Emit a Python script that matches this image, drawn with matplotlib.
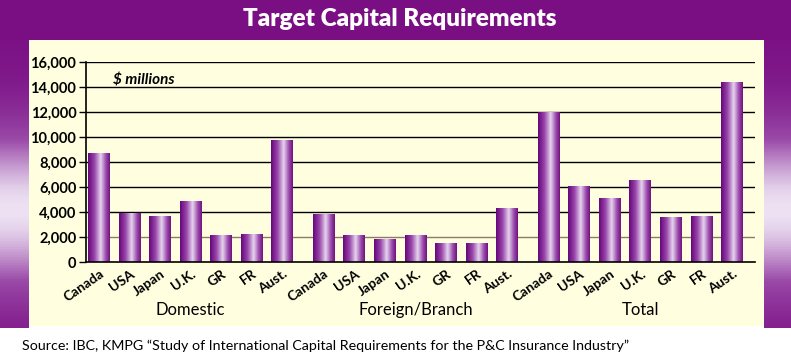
import matplotlib.pyplot as plt
import numpy as np
from matplotlib.colors import LinearSegmentedColormap
import matplotlib.transforms as mtransforms

plt.rcParams['font.family'] = ['Lato', 'DejaVu Sans']

countries = ['Canada', 'USA', 'Japan', 'U.K.', 'GR', 'FR', 'Aust.']
groups = ['Domestic', 'Foreign/Branch', 'Total']
domestic = [8700, 3850, 3650, 4850, 2100, 2200, 9700]
foreign = [3800, 2100, 1800, 2100, 1450, 1500, 4300]
total = [12000, 6050, 5100, 6550, 3600, 3650, 14350]
yticks = [0, 2000, 4000, 6000, 8000, 10000, 12000, 14000, 16000]
ytick_labels = ['0', '2,000', '4,000', '6,000', '8,000', '10,000', '12,000', '14,000', '16,000']

purple = '#7a0f84'
cream = '#ffffe0'
W, H = 791, 354

fig = plt.figure(figsize=(7.91, 3.54), dpi=100)
fig.patch.set_facecolor('white')

# background: purple frame with light glow on the sides, cream panel
bg = fig.add_axes([0, 0, 1, 1])
bg.set_xlim(0, W)
bg.set_ylim(H, 0)
bg.axis('off')
bg.add_patch(plt.Rectangle((0, 0), W, 40, color=purple, lw=0))
side = LinearSegmentedColormap.from_list('side', [purple, '#9a4aa8', '#ece0f2'])
edges = np.linspace(40, 327, 145)
for y0, y1 in zip(edges[:-1], edges[1:]):
    c = side(np.exp(-(((y0 + y1) / 2 - 210) / 85.0) ** 2))
    bg.add_patch(plt.Rectangle((0, y0), 29, y1 - y0 + 0.5, color=c, lw=0))
    bg.add_patch(plt.Rectangle((764, y0), W - 764, y1 - y0 + 0.5, color=c, lw=0))
bg.add_patch(plt.Rectangle((29, 40), 735, 286, color=cream, lw=0))

# main chart
ax = fig.add_axes([86 / W, (H - 262) / H, (755 - 86) / W, 200 / H])
ax.set_facecolor('none')

gap = 7.36
width = 0.72
bar_cmap = LinearSegmentedColormap.from_list(
    'bar', [(0, '#66067a'), (0.3, '#9a48ac'), (0.58, '#e6d4ee'), (0.82, '#9c4cae'), (1, '#70127e')])
strip = np.linspace(0, 1, 64).reshape(1, -1)

xpos = []
labels = []
for g, vals in enumerate([domestic, foreign, total]):
    for i, v in enumerate(vals):
        x = i + g * gap
        xpos.append(x)
        labels.append(countries[i])
        ax.imshow(strip, cmap=bar_cmap, extent=(x - width / 2, x + width / 2, 0, v),
                  aspect='auto', zorder=3, interpolation='bilinear')

for t in yticks[1:]:
    ax.axhline(t, color='#8a7a6a' if t == 2000 else 'black', lw=1.0, zorder=1)

ax.set_xlim(-0.425, 21.47)
ax.set_ylim(0, 16000)
ax.set_yticks(yticks)
ax.set_yticklabels(ytick_labels, fontsize=10.5, fontweight='bold')
ax.set_xticks(xpos)
ax.set_xticklabels(labels, rotation=35, ha='right', rotation_mode='anchor',
                   fontsize=10, fontweight='bold')
ax.tick_params(axis='x', length=0, pad=4)
ax.tick_params(axis='y', length=5, width=1, pad=2, colors='black')
for s in ['top', 'right']:
    ax.spines[s].set_visible(False)
ax.spines['left'].set_linewidth(1.2)
ax.spines['bottom'].set_linewidth(1.2)
ax.spines['bottom'].set_zorder(4)

trans = mtransforms.blended_transform_factory(ax.transData, ax.transAxes)
for g, name in enumerate(groups):
    ax.text(g * gap + 3, -0.24, name, transform=trans, ha='center', va='center', fontsize=12)

ax.text(0.04, 0.91, '$ millions', transform=ax.transAxes, fontsize=11,
        fontweight='bold', fontstyle='italic', va='center')

fig.text(400 / W, 1 - 19 / H, 'Target Capital Requirements', color='white',
         fontsize=17.5, fontweight='heavy', ha='center', va='center')
fig.text(22 / W, 1 - 346 / H,
         'Source: IBC, KMPG \u201cStudy of International Capital Requirements for the P&C Insurance Industry\u201d',
         fontsize=10.3, ha='left', va='center')

fig.savefig('out.png', dpi=100)
